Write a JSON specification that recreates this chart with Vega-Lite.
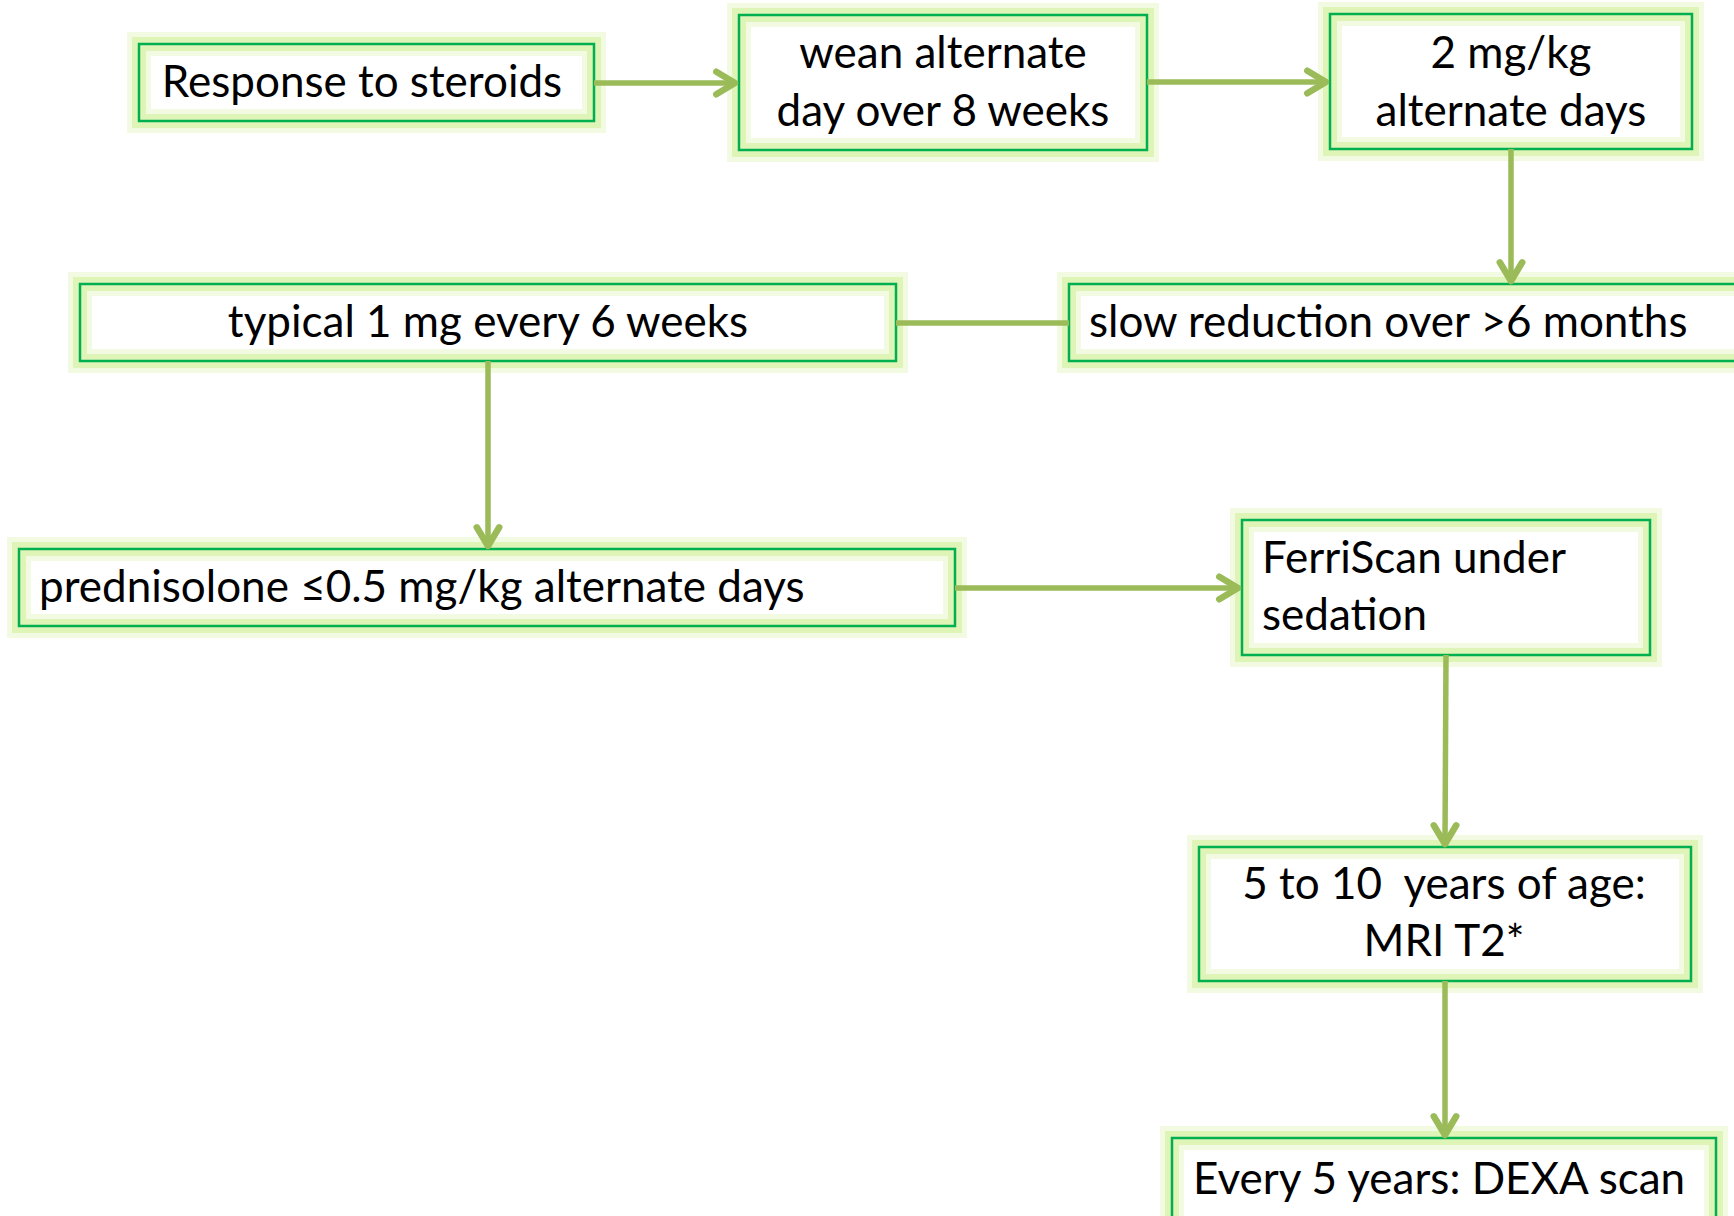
{
  "$schema": "https://vega.github.io/schema/vega-lite/v6.json",
  "width": 1734,
  "height": 1216,
  "autosize": {"type": "none"},
  "padding": 0,
  "background": "white",
  "config": {"view": {"stroke": null}},
  "datasets": {
    "boxes": [
      {"id": "b1", "x": 139, "x2": 594, "y": 44, "y2": 121},
      {"id": "b2", "x": 739, "x2": 1147, "y": 15, "y2": 150},
      {"id": "b3", "x": 1330, "x2": 1692, "y": 14, "y2": 149},
      {"id": "b4", "x": 1069, "x2": 1760, "y": 284, "y2": 361},
      {"id": "b5", "x": 80, "x2": 896, "y": 284, "y2": 361},
      {"id": "b6", "x": 19, "x2": 955, "y": 549, "y2": 626},
      {"id": "b7", "x": 1242, "x2": 1650, "y": 520, "y2": 655},
      {"id": "b8", "x": 1199, "x2": 1691, "y": 847, "y2": 981},
      {"id": "b9", "x": 1172, "x2": 1716, "y": 1138, "y2": 1260}
    ],
    "labels": [
      {"label": "Response to steroids", "x": 362, "y": 84, "anchor": "center"},
      {"label": "wean alternate", "x": 943, "y": 55, "anchor": "center"},
      {"label": "day over 8 weeks", "x": 943, "y": 113, "anchor": "center"},
      {"label": "2 mg/kg", "x": 1511, "y": 55, "anchor": "center"},
      {"label": "alternate days", "x": 1511, "y": 113, "anchor": "center"},
      {"label": "slow reduction over >6 months", "x": 1089, "y": 324, "anchor": "left"},
      {"label": "typical 1 mg every 6 weeks", "x": 488, "y": 324, "anchor": "center"},
      {"label": "prednisolone ≤0.5 mg/kg alternate days", "x": 39, "y": 589, "anchor": "left"},
      {"label": "FerriScan under", "x": 1262, "y": 560, "anchor": "left"},
      {"label": "sedation", "x": 1262, "y": 617, "anchor": "left"},
      {"label": "5 to 10\u00a0 years of age:", "x": 1444, "y": 886, "anchor": "center"},
      {"label": "MRI T2*", "x": 1444, "y": 943, "anchor": "center"},
      {"label": "Every 5 years: DEXA scan", "x": 1193, "y": 1181, "anchor": "left"}
    ],
    "links": [
      {"from": "b1", "x": 594, "x2": 734, "y": 83, "y2": 83},
      {"from": "b2", "x": 1147, "x2": 1325, "y": 82, "y2": 82},
      {"from": "b3", "x": 1511, "x2": 1511, "y": 149, "y2": 280},
      {"from": "b4", "x": 896, "x2": 1069, "y": 323, "y2": 323},
      {"from": "b5", "x": 488, "x2": 488, "y": 361, "y2": 545},
      {"from": "b6", "x": 955, "x2": 1237, "y": 588, "y2": 588},
      {"from": "b7", "x": 1446, "x2": 1445, "y": 655, "y2": 843},
      {"from": "b8", "x": 1445, "x2": 1445, "y": 981, "y2": 1134}
    ],
    "heads": [
      {"x": 735, "y": 83, "angle": 270},
      {"x": 1326, "y": 82, "angle": 270},
      {"x": 1511, "y": 281, "angle": 0},
      {"x": 488, "y": 546, "angle": 0},
      {"x": 1238, "y": 588, "angle": 270},
      {"x": 1445, "y": 844, "angle": 0},
      {"x": 1445, "y": 1135, "angle": 0}
    ]
  },
  "layer": [
    {
      "data": {"name": "boxes"},
      "mark": {"type": "rect", "fill": "white", "stroke": "#d4efa0", "strokeWidth": 24, "strokeOpacity": 0.3},
      "encoding": {
        "x": {"field": "x", "type": "quantitative", "scale": {"domain": [0, 1734], "nice": false, "zero": false}, "axis": null},
        "x2": {"field": "x2"},
        "y": {"field": "y", "type": "quantitative", "scale": {"domain": [0, 1216], "nice": false, "zero": false, "reverse": true}, "axis": null},
        "y2": {"field": "y2"}
      }
    },
    {
      "data": {"name": "boxes"},
      "mark": {"type": "rect", "fillOpacity": 0, "stroke": "#d8f2a8", "strokeWidth": 14, "strokeOpacity": 0.75},
      "encoding": {
        "x": {"field": "x", "type": "quantitative"},
        "x2": {"field": "x2"},
        "y": {"field": "y", "type": "quantitative"},
        "y2": {"field": "y2"}
      }
    },
    {
      "data": {"name": "boxes"},
      "mark": {"type": "rect", "fillOpacity": 0, "stroke": "#00b050", "strokeWidth": 2.5},
      "encoding": {
        "x": {"field": "x", "type": "quantitative"},
        "x2": {"field": "x2"},
        "y": {"field": "y", "type": "quantitative"},
        "y2": {"field": "y2"}
      }
    },
    {
      "data": {"name": "links"},
      "mark": {"type": "rule", "stroke": "#9bbb59", "strokeWidth": 5.5},
      "encoding": {
        "x": {"field": "x", "type": "quantitative"},
        "x2": {"field": "x2"},
        "y": {"field": "y", "type": "quantitative"},
        "y2": {"field": "y2"}
      }
    },
    {
      "data": {"name": "heads"},
      "mark": {"type": "point", "shape": "M -0.6 -1 L 0 0 L 0.6 -1", "filled": false, "stroke": "#9bbb59", "strokeWidth": 6.5, "size": 1400, "opacity": 1, "strokeCap": "round", "strokeJoin": "round"},
      "encoding": {
        "x": {"field": "x", "type": "quantitative"},
        "y": {"field": "y", "type": "quantitative"},
        "angle": {"field": "angle", "type": "quantitative", "scale": null}
      }
    },
    {
      "data": {"name": "labels"},
      "transform": [{"filter": "datum.anchor === 'center'"}],
      "mark": {"type": "text", "align": "center", "baseline": "middle", "font": "Lato", "fontSize": 44, "color": "black"},
      "encoding": {
        "x": {"field": "x", "type": "quantitative"},
        "y": {"field": "y", "type": "quantitative"},
        "text": {"field": "label"}
      }
    },
    {
      "data": {"name": "labels"},
      "transform": [{"filter": "datum.anchor === 'left'"}],
      "mark": {"type": "text", "align": "left", "baseline": "middle", "font": "Lato", "fontSize": 44, "color": "black"},
      "encoding": {
        "x": {"field": "x", "type": "quantitative"},
        "y": {"field": "y", "type": "quantitative"},
        "text": {"field": "label"}
      }
    }
  ]
}
